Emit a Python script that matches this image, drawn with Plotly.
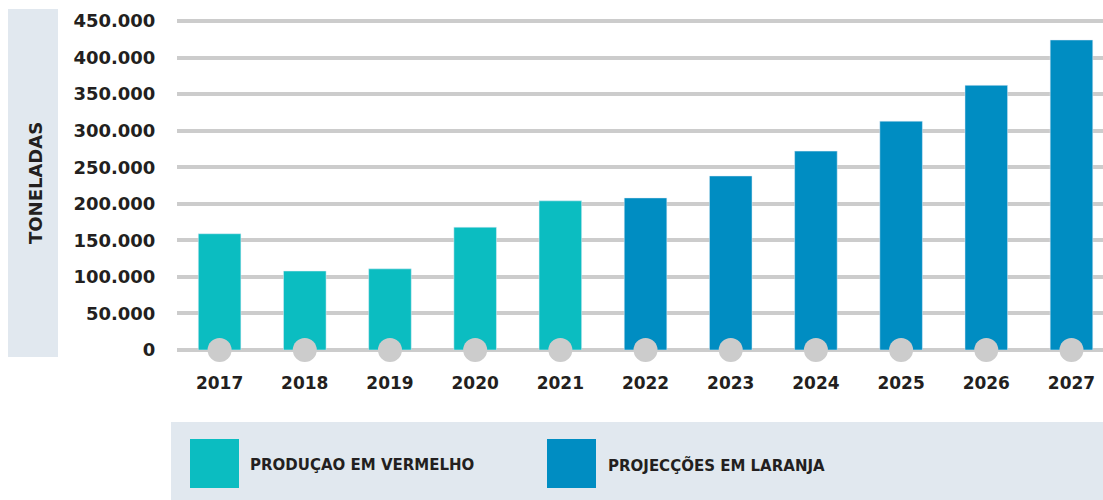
import plotly.graph_objects as go

years = ["2017", "2018", "2019", "2020", "2021", "2022", "2023", "2024", "2025", "2026", "2027"]
produccao = [159000, 108000, 111000, 168000, 204000, None, None, None, None, None, None]
projeccoes = [None, None, None, None, None, 208000, 238000, 272000, 313000, 362000, 424000]
y_ticks = [0, 50000, 100000, 150000, 200000, 250000, 300000, 350000, 400000, 450000]
y_tick_labels = ["0", "50.000", "100.000", "150.000", "200.000", "250.000",
                 "300.000", "350.000", "400.000", "450.000"]

TEAL = "#0BBDC1"
BLUE = "#008DC2"
GRID = "#CCCCCC"
PANEL = "#E1E8EF"
TEXT = "#231F20"
FONT = "DejaVu Sans"

W, H = 1103, 500
L, R, T, B = 177, 0, 10, 150


def px_x(x):
    return (x - L) / (W - L - R)


def px_y(y):
    return (H - B - y) / (H - B - T)


fig = go.Figure()
fig.add_bar(x=years, y=produccao, marker_color=TEAL, width=0.5, name="PRODUÇAO EM VERMELHO")
fig.add_bar(x=years, y=projeccoes, marker_color=BLUE, width=0.5, name="PROJECÇÕES EM LARANJA")
fig.add_scatter(
    x=years, y=[0] * len(years), mode="markers",
    marker=dict(color=GRID, size=24, line=dict(width=0)),
    cliponaxis=False, hoverinfo="skip",
)

shapes = [
    # y-axis title panel
    dict(type="rect", xref="paper", yref="paper", x0=px_x(8), x1=px_x(58), y0=px_y(357), y1=px_y(9),
         fillcolor=PANEL, line_width=0, layer="below"),
    # legend panel
    dict(type="rect", xref="paper", yref="paper", x0=px_x(171), x1=px_x(1103), y0=px_y(500), y1=px_y(422),
         fillcolor=PANEL, line_width=0, layer="below"),
    dict(type="rect", xref="paper", yref="paper", x0=px_x(190), x1=px_x(239), y0=px_y(488), y1=px_y(439),
         fillcolor=TEAL, line_width=0),
    dict(type="rect", xref="paper", yref="paper", x0=px_x(547), x1=px_x(596), y0=px_y(488), y1=px_y(439),
         fillcolor=BLUE, line_width=0),
]

annotations = [
    dict(text="TONELADAS", xref="paper", yref="paper", x=px_x(35), y=px_y(183), textangle=-90,
         xanchor="center", yanchor="middle",
         showarrow=False, font=dict(family=FONT, size=18, color=TEXT, weight="bold")),
    dict(text="PRODUÇAO EM VERMELHO", xref="paper", yref="paper", x=px_x(248), y=px_y(465),
         xanchor="left", yanchor="middle",
         showarrow=False, font=dict(family=FONT, size=15, color=TEXT, weight="bold")),
    dict(text="PROJECÇÕES EM LARANJA", xref="paper", yref="paper", x=px_x(606), y=px_y(465),
         xanchor="left", yanchor="middle",
         showarrow=False, font=dict(family=FONT, size=15, color=TEXT, weight="bold")),
]

fig.update_layout(
    width=W, height=H,
    margin=dict(l=L, r=R, t=T, b=B),
    paper_bgcolor="white",
    plot_bgcolor="white",
    barmode="overlay",
    showlegend=False,
    shapes=shapes,
    annotations=annotations,
    font=dict(family=FONT, color=TEXT),
)
fig.update_xaxes(
    type="category",
    range=[-0.5, 10.37],
    showgrid=False,
    showline=False,
    ticks="outside", ticklen=18, tickcolor="rgba(0,0,0,0)",
    tickfont=dict(family=FONT, size=17, color=TEXT, weight="bold"),
)
fig.update_yaxes(
    range=[0, 465000],
    tickvals=y_ticks,
    ticktext=y_tick_labels,
    showgrid=True, gridcolor=GRID, gridwidth=4,
    zeroline=True, zerolinecolor=GRID, zerolinewidth=4,
    showline=False,
    ticks="outside", ticklen=17, tickcolor="rgba(0,0,0,0)",
    tickfont=dict(family=FONT, size=18, color=TEXT, weight="bold"),
)

fig.write_html(
    "out.html",
    config={"displayModeBar": False},
    post_script="document.body.style.margin='0';",
)
